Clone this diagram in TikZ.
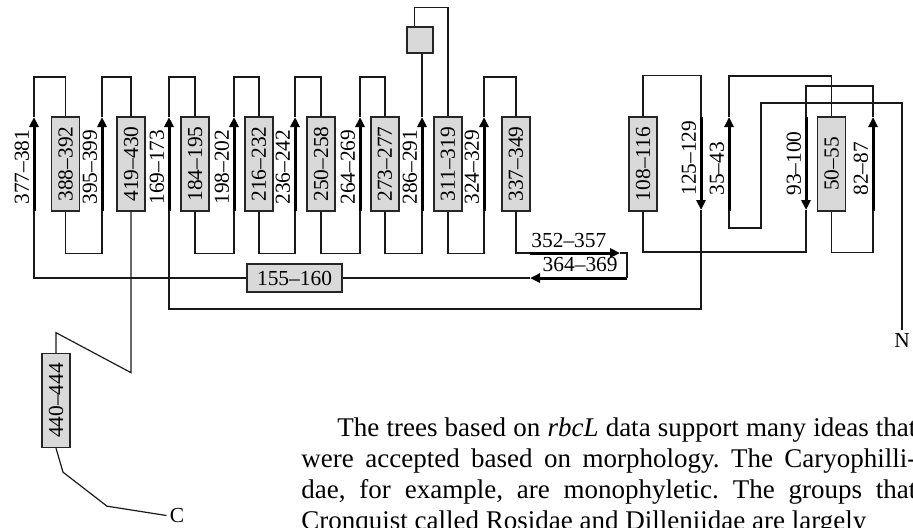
\documentclass[tikz,border=0pt]{standalone}
\usepackage{fontspec}
\setmainfont{Liberation Serif}
\usetikzlibrary{arrows.meta}

\newcommand{\vlab}[1]{\rotatebox{90}{#1}}

\begin{document}
\begin{tikzpicture}[
    x=0.5pt, y=-0.5pt,
    helix/.style={draw=black!85, fill=black!15, line width=0.65pt, minimum width=14pt,
        minimum height=47pt, inner sep=0pt, font=\fontsize{10.7}{12}\selectfont},
    strand/.style={line width=1.5pt, -{Triangle[length=5pt, width=4.5pt]}},
    slabel/.style={rotate=90, anchor=south west, inner sep=0pt, font=\fontsize{10.7}{12}\selectfont},
    hlabel/.style={inner sep=0pt, font=\fontsize{10.7}{12}\selectfont},
    link/.style={draw=black!90, line width=0.6pt}
]
    \useasboundingbox (0,0) rectangle (913,527);

    % helices
    \node[helix] (b388) at (65.5,164) {\vlab{388--392}};
    \node[helix] (b419) at (131,164) {\vlab{419--430}};
    \node[helix] (b184) at (195,164) {\vlab{184--195}};
    \node[helix] (b216) at (259,164) {\vlab{216--232}};
    \node[helix] (b250) at (321,164) {\vlab{250--258}};
    \node[helix] (b273) at (385,164) {\vlab{273--277}};
    \node[helix] (b311) at (448,164) {\vlab{311--319}};
    \node[helix] (b337) at (516,164) {\vlab{337--349}};
    \node[helix] (b108) at (643,164) {\vlab{108--116}};
    \node[helix] (b50) at (831.5,164) {\vlab{50--55}};
    \node[helix, minimum width=47.5pt, minimum height=14pt] (b155) at (294.5,278) {155--160};
    \node[helix] (b440) at (56,400.5) {\vlab{440--444}};
    \node[helix, minimum width=13pt, minimum height=13pt] (sq) at (420,40) {};

    % strands (bottom / top)
    \coordinate (s377b) at (34,211);  \coordinate (s377t) at (34,117);
    \coordinate (s395b) at (102,211); \coordinate (s395t) at (102,117);
    \coordinate (s169b) at (169,211); \coordinate (s169t) at (169,117);
    \coordinate (s198b) at (234,211); \coordinate (s198t) at (234,117);
    \coordinate (s236b) at (295,211); \coordinate (s236t) at (295,117);
    \coordinate (s264b) at (360,211); \coordinate (s264t) at (360,117);
    \coordinate (s286b) at (422,211); \coordinate (s286t) at (422,117);
    \coordinate (s324b) at (484,211); \coordinate (s324t) at (484,117);
    \coordinate (s125b) at (701,210); \coordinate (s125t) at (701,117);
    \coordinate (s35b) at (729,211);  \coordinate (s35t) at (729,117);
    \coordinate (s93b) at (806,210);  \coordinate (s93t) at (806,117);
    \coordinate (s82b) at (873,211);  \coordinate (s82t) at (873,117);
    \coordinate (a352s) at (530,253); \coordinate (a352e) at (620,253);
    \coordinate (a364s) at (627,278); \coordinate (a364e) at (530,278);

    \draw[strand] (s377b) -- (s377t);
    \draw[strand] (s395b) -- (s395t);
    \draw[strand] (s169b) -- (s169t);
    \draw[strand] (s198b) -- (s198t);
    \draw[strand] (s236b) -- (s236t);
    \draw[strand] (s264b) -- (s264t);
    \draw[strand] (s286b) -- (s286t);
    \draw[strand] (s324b) -- (s324t);
    \draw[strand] (s125t) -- (s125b);
    \draw[strand] (s35b) -- (s35t);
    \draw[strand] (s93t) -- (s93b);
    \draw[strand] (s82b) -- (s82t);
    \draw[strand] (a352s) -- (a352e);
    \draw[strand] (a364s) -- (a364e);

    \node[slabel] (l377) at (29.5,205) {377--381};
    \node[slabel] (l395) at (97.5,205) {395--399};
    \node[slabel] (l169) at (164.5,205) {169--173};
    \node[slabel] (l198) at (229.5,205) {198--202};
    \node[slabel] (l236) at (290.5,205) {236--242};
    \node[slabel] (l264) at (355.5,205) {264--269};
    \node[slabel] (l286) at (417.5,205) {286--291};
    \node[slabel] (l324) at (479.5,205) {324--329};
    \node[slabel] (l125) at (696.5,196) {125--129};
    \node[slabel] (l35) at (724.5,196) {35--43};
    \node[slabel] (l93) at (801.5,196) {93--100};
    \node[slabel] (l82) at (868.5,196) {82--87};
    \node[hlabel, anchor=base west] (l352) at (531,247) {352--357};
    \node[hlabel, anchor=base east] (l364) at (618,271) {364--369};

    \node[hlabel, inner sep=1.5pt] (nterm) at (902,340) {N};
    \node[hlabel, inner sep=1.5pt] (cterm) at (177,515.5) {C};

    % chain from N to C
    \draw[link] (nterm.north) |- (761,103) |- (729,228) -- (s35b);
    \draw[link] (s35t) -- ++(0,-41) -| (b50.north);
    \draw[link] (b50.south) -- ++(0,41) -| (s82b);
    \draw[link] (s82t) -- ++(0,-31) -| (s93t);
    \draw[link] (s93b) -- ++(0,42) -| (b108.south);
    \draw[link] (b108.north) -- ++(0,-41) -| (s125t);
    \draw[link] (s125b) -- ++(0,99) -| (s169b);
    \draw[link] (s169t) -- ++(0,-40) -| (b184.north);
    \draw[link] (b184.south) -- ++(0,42) -| (s198b);
    \draw[link] (s198t) -- ++(0,-40) -| (b216.north);
    \draw[link] (b216.south) -- ++(0,42) -| (s236b);
    \draw[link] (s236t) -- ++(0,-40) -| (b250.north);
    \draw[link] (b250.south) -- ++(0,42) -| (s264b);
    \draw[link] (s264t) -- ++(0,-40) -| (b273.north);
    \draw[link] (b273.south) -- ++(0,42) -| (s286b);
    \draw[link] (s286t) -- (s286t |- sq.south);
    \draw[link] (sq.north west) ++(8,0) -- ++(0,-19) -| (b311.north);
    \draw[link] (b311.south) -- ++(0,42) -| (s324b);
    \draw[link] (s324t) -- ++(0,-40) -| (b337.north);
    \draw[link] (b337.south) |- (a352s);
    \draw[link] (a352e) -| (a364s);
    \draw[link] (a364e) -- (b155.east);
    \draw[link] (b155.west) -| (s377b);
    \draw[link] (s377t) -- ++(0,-40) -| (b388.north);
    \draw[link] (b388.south) -- ++(0,42) -| (s395b);
    \draw[link] (s395t) -- ++(0,-40) -| (b419.north);
    \draw[link] (b419.south) -- ++(0,161) -- ++(-75,-40) -- (b440.north);
    \draw[link] (b440.south) -- ++(7,24) -- ++(44,34) -- (cterm.west);

    % text beside the figure
    \node[anchor=base west, text width=307.5pt, align=justify, inner sep=0pt,
        font=\fontsize{13.5}{15.5}\selectfont] (para) at (301,436)
        {\frenchspacing\parfillskip=0pt \hspace*{18pt}The trees based on \emph{rbcL} data support many ideas that\linebreak
        were accepted based on morphology. The Caryophilli-\linebreak
        dae, for example, are monophyletic. The groups that\linebreak
        Cronquist called Rosidae and Dilleniidae are largely};
\end{tikzpicture}
\end{document}
